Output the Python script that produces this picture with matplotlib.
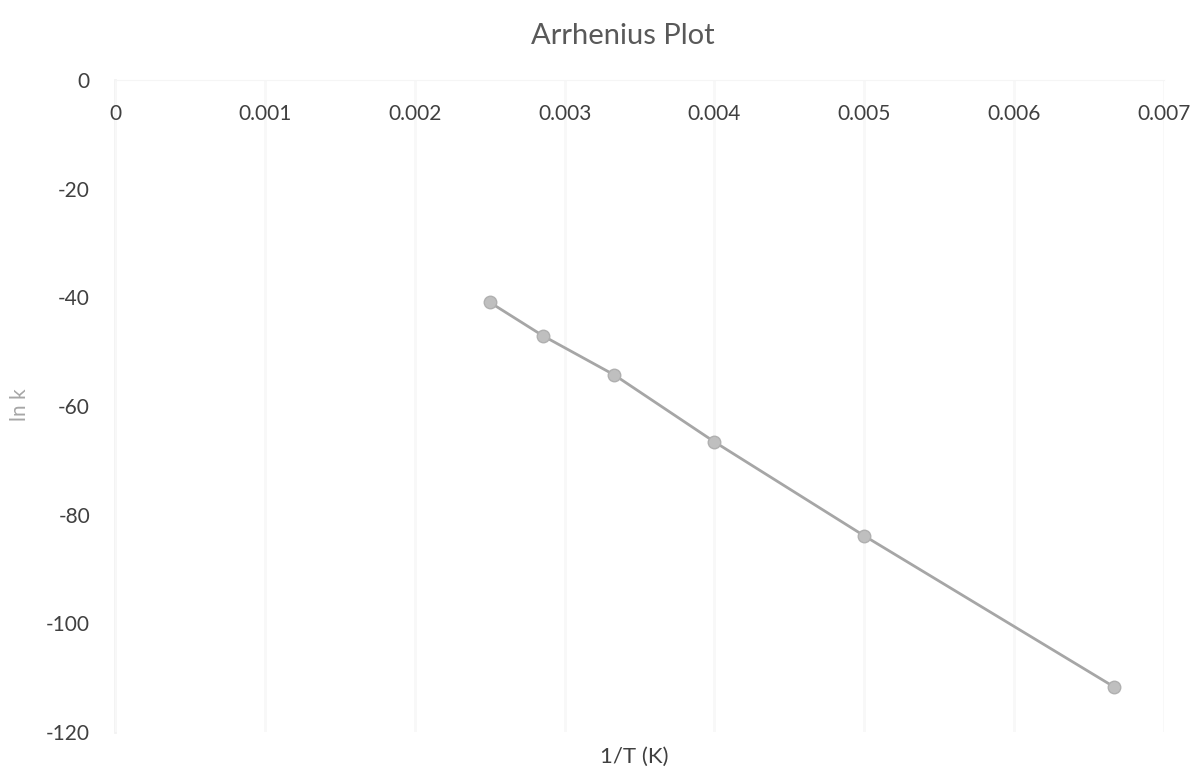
import matplotlib
matplotlib.use("Agg")
import matplotlib.pyplot as plt

inv_T = [0.0025, 0.002857, 0.003333, 0.004, 0.005, 0.006667]
ln_k = [-40.9, -47.1, -54.3, -66.6, -83.9, -111.7]
x_ticks = [0, 0.001, 0.002, 0.003, 0.004, 0.005, 0.006, 0.007]
x_tick_labels = ["0", "0.001", "0.002", "0.003", "0.004", "0.005", "0.006", "0.007"]
y_ticks = [0, -20, -40, -60, -80, -100, -120]

plt.rcParams['font.family'] = ['Lato', 'DejaVu Sans']
plt.rcParams['axes.unicode_minus'] = False

fig = plt.figure(figsize=(12.04, 7.75), dpi=100)
ax = fig.add_axes([115/1204, 1-732/775, (1164-115)/1204, (732-80)/775])

ax.plot(inv_T, ln_k, color="#a6a6a6", lw=2, marker="o", ms=9,
        markerfacecolor="#bfbfbf", markeredgecolor="#b0b0b0", zorder=3)

ax.set_xlim(0, 0.007)
ax.set_ylim(-120, 0)
ax.set_xticks(x_ticks)
ax.set_xticklabels(x_tick_labels)
ax.set_yticks(y_ticks)

for s in ["bottom", "right"]:
    ax.spines[s].set_visible(False)
ax.spines["top"].set_color("#f5f5f5")
ax.spines["left"].set_color("#f2f2f2")
ax.spines["left"].set_linewidth(2)
ax.spines["left"].set_zorder(0)

ax.grid(axis="x", color="#f8f8f8", lw=2)
ax.set_axisbelow(True)

ax.tick_params(axis="x", top=True, labeltop=True, bottom=False, labelbottom=False,
               length=0, pad=-32, labelsize=15, labelcolor="#404040")
ax.tick_params(axis="y", length=0, pad=18, labelsize=15, labelcolor="#404040")
for lab in ax.get_xticklabels():
    lab.set_zorder(5)

fig.text(623/1204, 1-36/775, "Arrhenius Plot", ha="center", va="center",
         fontsize=21, color="#595959")
fig.text(634/1204, 1-757/775, "1/T (K)", ha="center", va="center",
         fontsize=16, color="#404040")
fig.text(20/1204, 1-405/775, "ln k", ha="center", va="center", rotation=90,
         fontsize=15, color="#a6a6a6")

fig.savefig("out.png", dpi=100, facecolor="white")
